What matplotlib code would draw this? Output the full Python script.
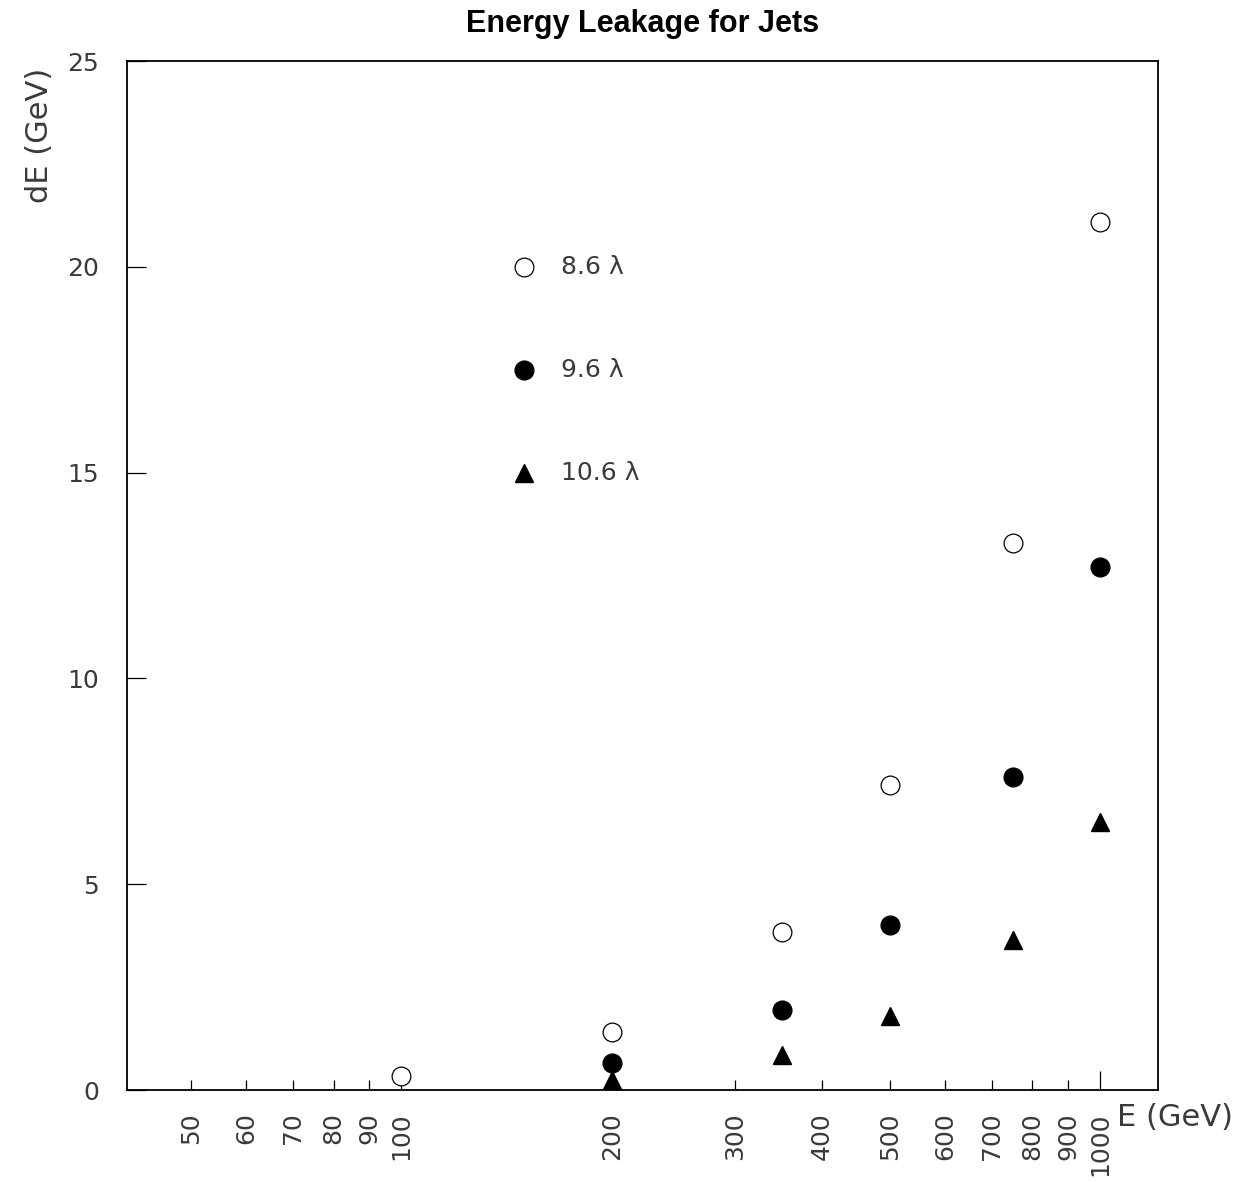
import matplotlib.pyplot as plt
from matplotlib.ticker import FixedLocator, FixedFormatter, NullFormatter

# energies (GeV) and leakage dE (GeV) for three calorimeter depths
e_86 = [100, 200, 350, 500, 750, 1000]
de_86 = [0.35, 1.4, 3.85, 7.4, 13.3, 21.1]

e_96 = [200, 350, 500, 750, 1000]
de_96 = [0.65, 1.95, 4.0, 7.6, 12.7]

e_106 = [200, 350, 500, 750, 1000]
de_106 = [0.25, 0.85, 1.8, 3.65, 6.5]

labels = ['8.6 \u03bb', '9.6 \u03bb', '10.6 \u03bb']
legend_x = 150
legend_y = [20, 17.5, 15]

major_x = [100, 1000]
minor_x = [50, 60, 70, 80, 90, 200, 300, 400, 500, 600, 700, 800, 900]
y_ticks = [0, 5, 10, 15, 20, 25]

plt.rcParams['font.family'] = ['DejaVu Sans']
grey = '#3a3a3a'
txt = dict(fontsize=18, color=grey)

fig = plt.figure(figsize=(12.55, 11.83), dpi=100)
ax = fig.add_axes([0.1012, 0.0786, 0.8215, 0.8698])

circ = dict(marker='o', markersize=13.5, linestyle='none', color='black', zorder=5, clip_on=False)
tri = dict(marker='^', markersize=13, linestyle='none', color='black', zorder=5, clip_on=False)
ax.plot(e_86, de_86, markerfacecolor='white', markeredgewidth=0.9, **circ)
ax.plot(e_96, de_96, markerfacecolor='black', **circ)
ax.plot(e_106, de_106, **tri)

# legend drawn inside the plot, like the original
ax.plot([legend_x], [legend_y[0]], markerfacecolor='white', markeredgewidth=0.9, **circ)
ax.plot([legend_x], [legend_y[1]], markerfacecolor='black', **circ)
ax.plot([legend_x], [legend_y[2]], **tri)
for lab, yy in zip(labels, legend_y):
    ax.text(169, yy, lab, va='center', ha='left', **txt)

ax.set_xscale('log')
ax.set_xlim(40.5, 1210)
ax.set_ylim(0, 25)

ax.xaxis.set_major_locator(FixedLocator(major_x))
ax.xaxis.set_major_formatter(FixedFormatter([str(v) for v in major_x]))
ax.xaxis.set_minor_locator(FixedLocator(minor_x))
ax.xaxis.set_minor_formatter(FixedFormatter([str(v) for v in minor_x]))
ax.set_yticks(y_ticks)
ax.yaxis.set_minor_formatter(NullFormatter())

ax.tick_params(axis='x', which='major', direction='in', length=14, width=0.9, pad=16,
               labelsize=18, labelcolor=grey, labelrotation=90)
ax.tick_params(axis='x', which='minor', direction='in', length=7, width=0.9, pad=16,
               labelsize=18, labelcolor=grey, labelrotation=90)
ax.tick_params(axis='y', which='major', direction='in', length=14, width=0.9, pad=20,
               labelsize=18, labelcolor=grey)
ax.tick_params(axis='y', which='minor', left=False)
for lab in ax.get_xticklabels(which='both'):
    lab.set_verticalalignment('top')

for sp in ax.spines.values():
    sp.set_linewidth(1.3)

ax.text(0.96, -0.027, 'E (GeV)', transform=ax.transAxes, va='center', ha='left',
        fontsize=22, color=grey)
ax.text(-0.0844, 0.993, 'dE (GeV)', transform=ax.transAxes, va='top', ha='center',
        rotation=90, fontsize=22, color=grey)

fig.text(0.512, 0.9797, 'Energy Leakage for Jets', ha='center', va='center',
         fontsize=22, fontweight='bold', family=['Liberation Sans', 'DejaVu Sans'])

fig.savefig('out.png', dpi=100)
